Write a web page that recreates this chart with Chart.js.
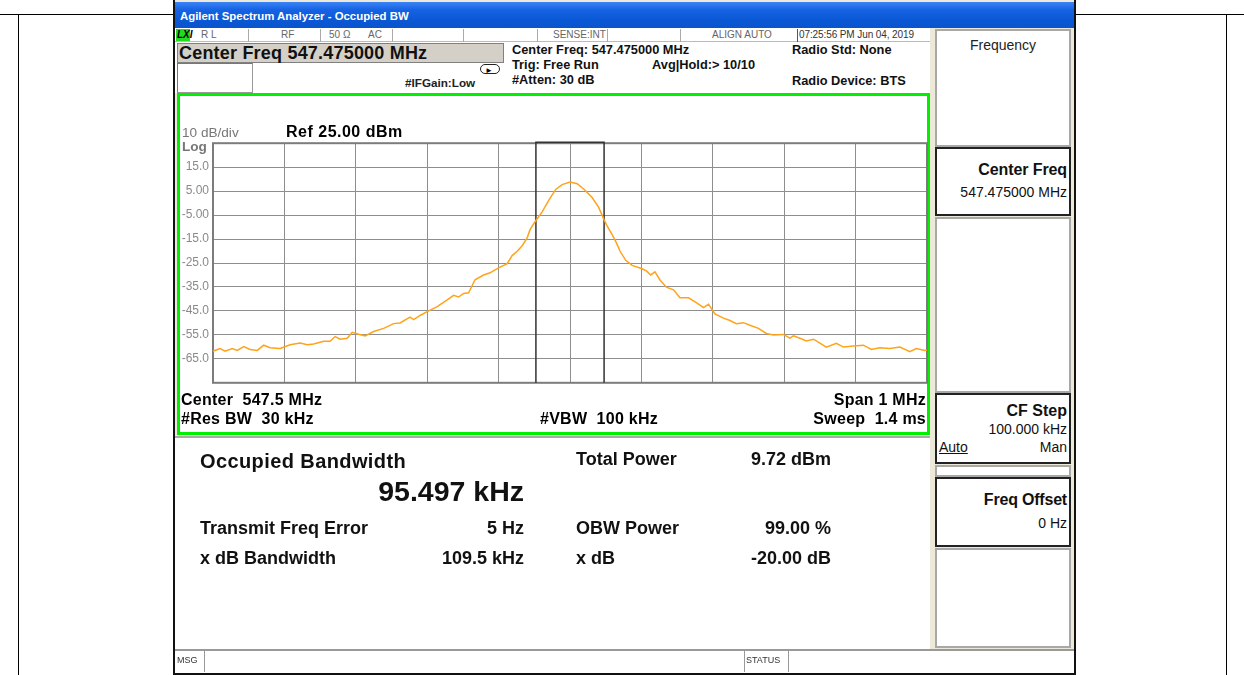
<!DOCTYPE html>
<html><head><meta charset="utf-8">
<script src="https://cdn.jsdelivr.net/npm/chart.js@4.4.1/dist/chart.umd.min.js"></script>
<style>
html,body{margin:0;padding:0;background:#fff;}
#page{position:relative;width:1244px;height:675px;overflow:hidden;background:#fff;font-family:"Liberation Sans",Arial,sans-serif;}
.a{position:absolute;white-space:nowrap;line-height:1;}
.b{font-weight:bold;}
.r{text-align:right;}
.box{position:absolute;box-sizing:border-box;background:#fff;}
.lab{font-size:16px;font-weight:bold;color:#000;letter-spacing:0.25px;}
.res{font-size:18px;font-weight:bold;color:#111;}
.inf{font-size:12.8px;font-weight:bold;color:#111;}
</style></head>
<body><div id="page">
<!-- outer table lines -->
<div class="a" style="left:0;top:14px;width:1244px;height:1px;background:#000"></div>
<div class="a" style="left:18px;top:14px;width:1px;height:661px;background:#000"></div>
<div class="a" style="left:1226px;top:14px;width:1px;height:661px;background:#000"></div>

<!-- window -->
<div class="box" style="left:173px;top:0;width:903px;height:675px;background:#ece9d8;border:2px solid #111;border-top:none"></div>
<div class="box" style="left:175px;top:2px;width:899px;height:26px;background:linear-gradient(#3b83f5 0%,#1563e3 30%,#0b58d5 70%,#0a54cc 100%)"></div>
<div class="a b" style="left:180px;top:11px;font-size:11.4px;color:#fff">Agilent Spectrum Analyzer - Occupied BW</div>

<!-- status row -->
<div class="box" style="left:175px;top:28px;width:755px;height:14px;background:#fff;border-bottom:1px solid #bbb"></div>
<div class="box" style="left:176px;top:29px;width:14px;height:12px;background:#1fdc1f"></div>
<div class="a b" style="left:177px;top:30px;font-size:10px;font-style:italic;color:#000">LXI</div>
<div class="a" style="left:201px;top:30px;font-size:10px;color:#666">R L</div>
<div class="a" style="left:281px;top:30px;font-size:10px;color:#666">RF</div>
<div class="a" style="left:329px;top:30px;font-size:10px;color:#666">50 Ω</div>
<div class="a" style="left:368px;top:30px;font-size:10px;color:#666">AC</div>
<div class="a" style="left:553px;top:30px;font-size:10px;color:#666">SENSE:INT</div>
<div class="a" style="left:712px;top:30px;font-size:10px;color:#666">ALIGN AUTO</div>
<div class="a" style="left:799px;top:30px;font-size:10px;color:#333;letter-spacing:-0.1px">07:25:56 PM Jun 04, 2019</div>
<div class="a" style="left:248px;top:29px;width:1px;height:13px;background:#aaa"></div>
<div class="a" style="left:320px;top:29px;width:1px;height:13px;background:#aaa"></div>
<div class="a" style="left:392px;top:29px;width:1px;height:13px;background:#aaa"></div>
<div class="a" style="left:463px;top:29px;width:1px;height:13px;background:#aaa"></div>
<div class="a" style="left:537px;top:29px;width:1px;height:13px;background:#aaa"></div>
<div class="a" style="left:607px;top:29px;width:1px;height:13px;background:#aaa"></div>
<div class="a" style="left:680px;top:29px;width:1px;height:13px;background:#aaa"></div>
<div class="a" style="left:797px;top:29px;width:1px;height:13px;background:#555"></div>

<!-- top info area -->
<div class="box" style="left:175px;top:42px;width:755px;height:51px;background:#fff"></div>
<div class="box" style="left:177px;top:43px;width:327px;height:20px;background:#d4d0c8;border:1px solid #808080"></div>
<div class="a b" style="left:179px;top:44px;font-size:18px;color:#111;letter-spacing:0.2px">Center Freq 547.475000 MHz</div>
<div class="box" style="left:177px;top:63px;width:76px;height:30px;border:1px solid #999;border-top-color:#777;border-left-color:#777"></div>
<div class="a b" style="left:405px;top:77px;font-size:11.7px;color:#222">#IFGain:Low</div>
<div class="box" style="left:480px;top:64px;width:20px;height:10px;border:1px solid #222;border-radius:5px;background:#fff"></div>
<div class="a" style="left:485px;top:67px;font-size:8px;color:#000">►</div>
<div class="a inf" style="left:512px;top:44px">Center Freq: 547.475000 MHz</div>
<div class="a inf" style="left:512px;top:59px">Trig: Free Run</div>
<div class="a inf" style="left:512px;top:74px">#Atten: 30 dB</div>
<div class="a inf" style="left:652px;top:59px">Avg|Hold:&gt; 10/10</div>
<div class="a inf" style="left:792px;top:44px">Radio Std: None</div>
<div class="a inf" style="left:792px;top:75px">Radio Device: BTS</div>

<!-- green frame -->
<div class="box" style="left:177px;top:93px;width:753px;height:342px;border:3px solid #00f000"></div>
<canvas id="c" width="749" height="262" style="position:absolute;left:180px;top:132px"></canvas>
<div class="a" style="left:182px;top:126px;font-size:13.6px;color:#777">10 dB/div</div>
<div class="a b" style="left:182px;top:140px;font-size:13.6px;color:#777">Log</div>
<div class="a b" style="left:286px;top:124px;font-size:16px;color:#000;letter-spacing:0.5px">Ref 25.00 dBm</div>
<div class="a lab" style="left:181px;top:392px">Center&nbsp; 547.5 MHz</div>
<div class="a lab" style="left:181px;top:411px">#Res BW&nbsp; 30 kHz</div>
<div class="a lab" style="left:540px;top:411px">#VBW&nbsp; 100 kHz</div>
<div class="a lab r" style="right:318px;top:392px">Span 1 MHz</div>
<div class="a lab r" style="right:318px;top:411px">Sweep&nbsp; 1.4 ms</div>

<!-- results -->
<div class="box" style="left:175px;top:436px;width:755px;height:213px;background:#fff;border-top:2px solid #aaa"></div>
<div class="a" style="left:200px;top:451px;font-size:20px;color:#111;font-weight:600;letter-spacing:0.4px">Occupied Bandwidth</div>
<div class="a r" style="right:720px;top:477px;font-size:28.5px;color:#111;font-weight:600">95.497 kHz</div>
<div class="a res" style="left:576px;top:450px">Total Power</div>
<div class="a res r" style="right:413px;top:450px">9.72 dBm</div>
<div class="a res" style="left:200px;top:519px">Transmit Freq Error</div>
<div class="a res r" style="right:720px;top:519px">5 Hz</div>
<div class="a res" style="left:576px;top:519px">OBW Power</div>
<div class="a res r" style="right:413px;top:519px">99.00 %</div>
<div class="a res" style="left:200px;top:549px">x dB Bandwidth</div>
<div class="a res r" style="right:720px;top:549px">109.5 kHz</div>
<div class="a res" style="left:576px;top:549px">x dB</div>
<div class="a res r" style="right:413px;top:549px">-20.00 dB</div>

<!-- right panel -->
<div class="box" style="left:935px;top:29px;width:136px;height:118px;border:2px solid #a8a8a8"></div>
<div class="a" style="left:935px;top:38px;width:136px;text-align:center;font-size:14px;color:#222">Frequency</div>
<div class="box" style="left:935px;top:147px;width:136px;height:69px;border:2px solid #222"></div>
<div class="a b r" style="right:177px;top:162px;font-size:16px;color:#111;letter-spacing:-0.1px">Center Freq</div>
<div class="a r" style="right:177px;top:185px;font-size:14px;color:#111">547.475000 MHz</div>
<div class="box" style="left:935px;top:217px;width:136px;height:176px;border:2px solid #a8a8a8"></div>
<div class="box" style="left:935px;top:393px;width:136px;height:71px;border:2px solid #222"></div>
<div class="a b r" style="right:177px;top:403px;font-size:16px;color:#111">CF Step</div>
<div class="a r" style="right:177px;top:422px;font-size:14px;color:#111">100.000 kHz</div>
<div class="a" style="left:939px;top:440px;font-size:14px;color:#111;text-decoration:underline">Auto</div>
<div class="a r" style="right:177px;top:440px;font-size:14px;color:#111">Man</div>
<div class="box" style="left:935px;top:465px;width:136px;height:12px;border:2px solid #a8a8a8"></div>
<div class="box" style="left:935px;top:477px;width:136px;height:70px;border:2px solid #222"></div>
<div class="a b r" style="right:177px;top:492px;font-size:16px;color:#111;letter-spacing:-0.2px">Freq Offset</div>
<div class="a r" style="right:177px;top:516px;font-size:14px;color:#111">0 Hz</div>
<div class="box" style="left:935px;top:548px;width:136px;height:100px;border:2px solid #a8a8a8"></div>

<!-- bottom status bar -->
<div class="box" style="left:175px;top:649px;width:899px;height:24px;background:#fff;border-top:2px solid #999"></div>
<div class="a" style="left:177px;top:656px;font-size:9px;color:#333">MSG</div>
<div class="a" style="left:746px;top:656px;font-size:9px;color:#333">STATUS</div>
<div class="a" style="left:204px;top:651px;width:1px;height:21px;background:#999"></div>
<div class="a" style="left:744px;top:651px;width:1px;height:21px;background:#999"></div>
<div class="a" style="left:788px;top:651px;width:1px;height:21px;background:#999"></div>
</div>

<script>
// ---- data ----
const centerFreqMHz = 547.475;
const spanKHz = 1000;
const refLevelDbm = 25;
const dbPerDiv = 10;
const obwKHz = 95.497;

const offsetKHz = [-500,-490,-483,-473,-466,-457,-448,-438,-429,-420,-406,-392,-378,-368,-359,-345,-336,-329,-322,-312,-305,-296,-287,-275,-261,-247,-238,-224,-219,-210,-200,-186,-172,-163,-156,-149,-142,-133,-121,-112,-100,-88,-81,-74,-67,-60,-56,-49,-39,-29,-20,-11,0,10,20,31,40,48,51,59,64,68,70,78,87,100,107,113,119,126,135,145,154,166,177,187,194,203,215,224,233,243,252,264,275,285,299,308,313,322,331,341,350,359,373,383,397,411,422,434,448,462,476,485,497,500];
const traceDbm = [-61.8,-60.7,-61.8,-60.7,-61.5,-59.9,-61.1,-61.5,-59.3,-60.4,-60.7,-59.1,-58.4,-59.1,-58.8,-57.7,-57.7,-55.7,-56.8,-56.4,-53.9,-54.7,-55.4,-53.6,-52.3,-50.3,-50.0,-47.6,-48.6,-46.9,-45.3,-43.2,-40.4,-38.5,-39.2,-37.7,-37.4,-32.0,-30.0,-29.1,-27.0,-25.3,-21.9,-20.1,-17.8,-14.5,-11.1,-7.8,-3.7,1.6,5.7,7.7,8.8,8.1,5.7,2.3,-1.7,-7.1,-9.0,-13.2,-16.0,-18.6,-20.0,-23.9,-26.0,-27.3,-28.3,-30.0,-28.7,-32.1,-35.1,-36.2,-39.5,-39.5,-41.5,-43.6,-42.2,-46.3,-48.0,-49.0,-50.3,-49.9,-51.0,-52.3,-54.4,-55.0,-54.8,-56.4,-55.4,-56.4,-57.5,-56.8,-58.4,-60.1,-58.5,-60.1,-59.6,-59.3,-61.1,-60.4,-60.7,-60.1,-62.0,-60.7,-61.5,-61.3];

const yTickValues = [15,5,-5,-15,-25,-35,-45,-55,-65];
const yTickLabels = ['15.0','5.00','-5.00','-15.0','-25.0','-35.0','-45.0','-55.0','-65.0'];

const yMax = refLevelDbm, yMin = refLevelDbm - 10*dbPerDiv;
const half = obwKHz/2;

const framePlugin = {
  id:'frame',
  beforeDatasetsDraw(chart){
    const {ctx, chartArea:a} = chart;
    ctx.save();
    ctx.strokeStyle = '#7c7c7c';
    ctx.lineWidth = 2;
    ctx.strokeRect(a.left, a.top, a.right-a.left, a.bottom-a.top);
    ctx.restore();
  }
};

new Chart(document.getElementById('c'), {
  type:'line',
  data:{
    datasets:[
      {
        data: offsetKHz.map((x,i)=>({x:x, y:traceDbm[i]})),
        borderColor:'#ffa31a', borderWidth:1.5, pointRadius:0, tension:0, fill:false
      },
      {
        data:[{x:-half,y:yMin},{x:-half,y:yMax+0.4},{x:half,y:yMax+0.4},{x:half,y:yMin}],
        borderColor:'#333', borderWidth:1.5, pointRadius:0, tension:0, fill:false, clip:false
      }
    ]
  },
  options:{
    responsive:false, animation:false, devicePixelRatio:1,
    layout:{padding:{left:0, right:2, top:11, bottom:5}},
    plugins:{legend:{display:false}, tooltip:{enabled:false}},
    scales:{
      x:{
        type:'linear', min:-spanKHz/2, max:spanKHz/2,
        ticks:{display:false, stepSize:100},
        grid:{color:'#8e8e8e', lineWidth:1, drawTicks:false},
        border:{display:false},
        afterFit(s){ s.height = 0; }
      },
      y:{
        min:yMin, max:yMax,
        ticks:{stepSize:dbPerDiv, padding:4, color:'#8a8a8a', font:{family:'Liberation Sans', size:12},
          callback(v){ const i = yTickValues.indexOf(v); return i>=0 ? yTickLabels[i] : ''; }},
        grid:{color:'#8e8e8e', lineWidth:1, drawTicks:false},
        border:{display:false},
        afterFit(s){ s.width = 33; }
      }
    }
  },
  plugins:[framePlugin]
});
</script>
</body></html>
